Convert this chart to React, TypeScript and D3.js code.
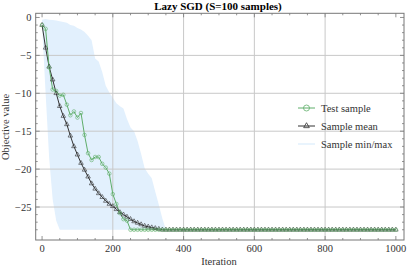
import React from 'react';
import * as d3 from 'd3';

// iterations at which the test sample and the mean were recorded
const iterations = d3.range(0, 1001, 10);

const testSample = [
  -1.0, -1.5, -6.6, -9.5, -9.7, -10.3, -10.2, -11.5, -12.9, -12.4,
  -13.2, -12.6, -15.5, -17.9, -18.8, -18.4, -18.4, -19.3, -19.8, -20.6,
  -23.3, -24.6, -25.8, -26.6, -26.8, -28, -28, -28, -28, -28,
  -28, -28, -28, -28, -28, -28, -28, -28, -28, -28,
  -28, -28, -28, -28, -28, -28, -28, -28, -28, -28,
  -28, -28, -28, -28, -28, -28, -28, -28, -28, -28,
  -28, -28, -28, -28, -28, -28, -28, -28, -28, -28,
  -28, -28, -28, -28, -28, -28, -28, -28, -28, -28,
  -28, -28, -28, -28, -28, -28, -28, -28, -28, -28,
  -28, -28, -28, -28, -28, -28, -28, -28, -28, -28,
  -28,
];

const sampleMean = [
  -1.0, -4.0, -6.5, -8.2, -10.0, -11.7, -13.0, -14.1, -15.6, -17.0,
  -18.1, -19.2, -20.1, -21.0, -21.9, -22.6, -23.2, -23.7, -24.2, -24.6,
  -24.9, -25.3, -25.7, -26.0, -26.3, -26.6, -26.9, -27.1, -27.3, -27.5,
  -27.6, -27.7, -27.8, -27.9, -28, -28, -28, -28, -28, -28,
  -28, -28, -28, -28, -28, -28, -28, -28, -28, -28,
  -28, -28, -28, -28, -28, -28, -28, -28, -28, -28,
  -28, -28, -28, -28, -28, -28, -28, -28, -28, -28,
  -28, -28, -28, -28, -28, -28, -28, -28, -28, -28,
  -28, -28, -28, -28, -28, -28, -28, -28, -28, -28,
  -28, -28, -28, -28, -28, -28, -28, -28, -28, -28,
  -28,
];

// min/max envelope over the 100 samples
const bandIter = [
  0, 10, 20, 30, 40, 50, 60, 70, 80, 90,
  100, 110, 120, 130, 140, 150, 160, 170, 180, 190,
  200, 210, 220, 230, 240, 250, 260, 270, 280, 290,
  300, 310, 320, 330, 340, 350, 1000,
];
const bandMax = [
  -0.3, -0.2, -0.3, -0.35, -0.4, -0.5, -0.6, -0.7, -1.0, -1.1,
  -1.4, -1.6, -1.9, -2.4, -3.0, -5.4, -5.8, -7.2, -9.0, -9.9,
  -10.6, -11.3, -11.7, -12.0, -13.4, -14.5, -15.0, -16.3, -18.0, -19.9,
  -20.6, -21.2, -23.0, -24.7, -26.5, -28, -28,
];
const bandMin = [
  -1.0, -10.0, -18.5, -24.0, -26.8, -28, -28, -28, -28, -28,
  -28, -28, -28, -28, -28, -28, -28, -28, -28, -28,
  -28, -28, -28, -28, -28, -28, -28, -28, -28, -28,
  -28, -28, -28, -28, -28, -28, -28,
];

const xTicks = [0, 200, 400, 600, 800, 1000];
const yTicks = [0, -5, -10, -15, -20, -25];
const legendLabels = ['Test sample', 'Sample mean', 'Sample min/max'];

const W = 407;
const H = 269;
const GREEN = '#5fae6a';
const DARK = '#333333';
const BAND = '#e2f0fd';
const FONT = '"Liberation Serif", "DejaVu Serif", serif';

const App: React.FC = () => {
  const x = d3.scaleLinear().domain([-18, 1023]).range([35.7, 404]);
  const y = d3.scaleLinear().domain([0.55, -29.35]).range([13.3, 240]);
  const [x0, x1] = x.range();
  const [y0, y1] = y.range();

  const line = d3
    .line<number>()
    .x((_, i) => x(iterations[i]))
    .y((d) => y(d));

  const area = d3
    .area<number>()
    .x((d) => x(d))
    .y0((_, i) => y(bandMin[i]))
    .y1((_, i) => y(bandMax[i]));

  const minorX = d3.range(0, 1001, 50);
  const minorY = d3.range(0, -29, -1);

  const tri = d3.symbol(d3.symbolTriangle, 9)() as string;
  const triLegend = d3.symbol(d3.symbolTriangle, 14)() as string;

  return (
    <svg width={W} height={H} style={{ position: 'absolute', left: 0, top: 0, background: '#fff' }} fontFamily={FONT}>
      <text x={218} y={10} textAnchor="middle" fontWeight="bold" fontSize={11} fill="#000">
        Lazy SGD (S=100 samples)
      </text>

      {/* band */}
      <path d={area(bandIter) ?? ''} fill={BAND} />

      {/* grid */}
      {xTicks.slice(1, -1).map((t) => (
        <line key={`gx${t}`} x1={x(t)} x2={x(t)} y1={y0} y2={y1} stroke="#c8c8c8" strokeWidth={1} />
      ))}
      {yTicks.slice(1).map((t) => (
        <line key={`gy${t}`} x1={x0} x2={x1} y1={y(t)} y2={y(t)} stroke="#c8c8c8" strokeWidth={1} />
      ))}

      {/* series */}
      <path d={line(sampleMean) ?? ''} fill="none" stroke={DARK} strokeWidth={1} />
      <path d={line(testSample) ?? ''} fill="none" stroke={GREEN} strokeWidth={1} />
      {sampleMean.map((v, i) => (
        <path key={`m${i}`} d={tri} transform={`translate(${x(iterations[i])},${y(v)})`} fill="none" stroke={DARK} strokeWidth={0.6} />
      ))}
      {testSample.map((v, i) => (
        <circle key={`t${i}`} cx={x(iterations[i])} cy={y(v)} r={1.8} fill="none" stroke={GREEN} strokeWidth={0.6} />
      ))}

      {/* frame */}
      <rect x={x0} y={y0} width={x1 - x0} height={y1 - y0} fill="none" stroke="#777" strokeWidth={1} />

      {/* ticks */}
      {minorX.map((t) => {
        const len = t % 200 === 0 ? 4 : 2;
        return (
          <g key={`tx${t}`} stroke="#777" strokeWidth={0.8}>
            <line x1={x(t)} x2={x(t)} y1={y1} y2={y1 - len} />
            <line x1={x(t)} x2={x(t)} y1={y0} y2={y0 + len} />
          </g>
        );
      })}
      {minorY.map((t) => {
        const len = t % 5 === 0 ? 4 : 2;
        return (
          <g key={`ty${t}`} stroke="#777" strokeWidth={0.8}>
            <line x1={x0} x2={x0 + len} y1={y(t)} y2={y(t)} />
            <line x1={x1} x2={x1 - len} y1={y(t)} y2={y(t)} />
          </g>
        );
      })}

      {/* tick labels */}
      {xTicks.map((t) => (
        <text key={`lx${t}`} x={x(t)} y={252} textAnchor="middle" fontSize={10.5} fill={DARK}>
          {t}
        </text>
      ))}
      {yTicks.map((t) => (
        <text key={`ly${t}`} x={31.5} y={y(t) + 3.5} textAnchor="end" fontSize={10.5} fill={DARK}>
          {t === 0 ? '0' : `\u2212${Math.abs(t)}`}
        </text>
      ))}

      <text x={219} y={265} textAnchor="middle" fontSize={10.5} fill={DARK}>
        Iteration
      </text>
      <text transform={`translate(9,${127}) rotate(-90)`} textAnchor="middle" fontSize={10.5} fill={DARK}>
        Objective value
      </text>

      {/* legend */}
      {legendLabels.map((label, i) => {
        const ly = 108 + i * 18;
        return (
          <g key={label}>
            {i === 2 ? (
              <line x1={298} x2={315} y1={ly} y2={ly} stroke={BAND} strokeWidth={1.5} />
            ) : (
              <line x1={298} x2={315} y1={ly} y2={ly} stroke={i === 0 ? GREEN : DARK} strokeWidth={1} />
            )}
            {i === 0 && <circle cx={306.5} cy={ly} r={3} fill="none" stroke={GREEN} strokeWidth={0.8} />}
            {i === 1 && <path d={triLegend} transform={`translate(306.5,${ly})`} fill="none" stroke={DARK} strokeWidth={0.8} />}
            <text x={321} y={ly + 3.5} fontSize={10.5} fill={DARK}>
              {label}
            </text>
          </g>
        );
      })}
    </svg>
  );
};

export default App;
